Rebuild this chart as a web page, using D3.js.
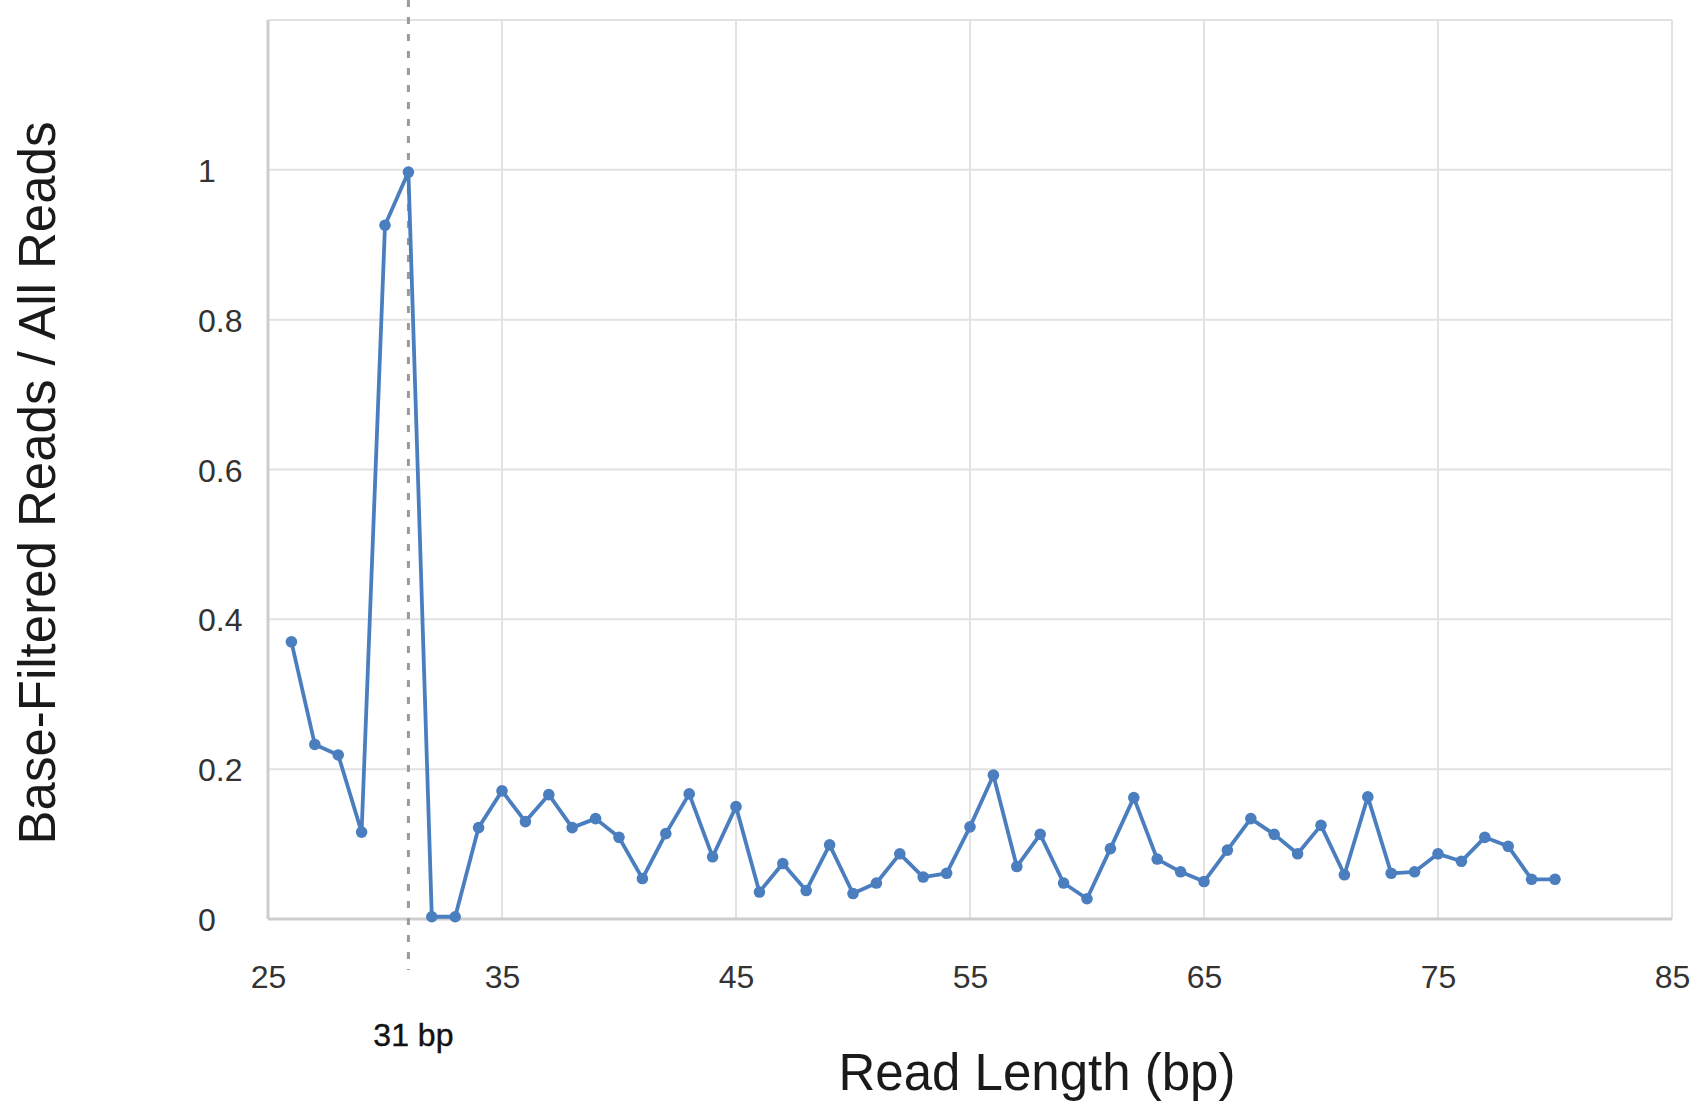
<!DOCTYPE html>
<html>
<head>
<meta charset="utf-8">
<script src="https://cdn.jsdelivr.net/npm/d3@7/dist/d3.min.js"></script>
<style>
  body { margin: 0; background: #fff; }
  svg { display: block; font-family: "Liberation Sans", Arial, Helvetica, sans-serif; }
</style>
</head>
<body>
<div id="chart"></div>
<script>
// read lengths (bp) and ratio of base-filtered reads to all reads
var readLengths = [26, 27, 28, 29, 30, 31, 32, 33, 34, 35, 36, 37, 38, 39, 40,
                   41, 42, 43, 44, 45, 46, 47, 48, 49, 50, 51, 52, 53, 54, 55,
                   56, 57, 58, 59, 60, 61, 62, 63, 64, 65, 66, 67, 68, 69, 70,
                   71, 72, 73, 74, 75, 76, 77, 78, 79, 80];
var ratios = [0.370, 0.233, 0.219, 0.116, 0.926, 0.997, 0.003, 0.003, 0.122, 0.171,
              0.130, 0.166, 0.122, 0.134, 0.109, 0.054, 0.114, 0.167, 0.083, 0.150,
              0.036, 0.074, 0.038, 0.099, 0.034, 0.048, 0.087, 0.056, 0.061, 0.123,
              0.192, 0.070, 0.113, 0.048, 0.027, 0.094, 0.162, 0.080, 0.063, 0.050,
              0.092, 0.134, 0.113, 0.087, 0.125, 0.059, 0.163, 0.061, 0.063, 0.087,
              0.077, 0.109, 0.097, 0.053, 0.053];
var xTicks = [25, 35, 45, 55, 65, 75, 85];
var yTicks = [0, 0.2, 0.4, 0.6, 0.8, 1];
var xDomain = [25, 85];
var yDomain = [0, 1.2];
var cutoff = 31;
var cutoffLabel = "31 bp";

var width = 1700, height = 1105;
var margin = {top: 20, right: 28, bottom: 186, left: 268};
var w = width - margin.left - margin.right;
var h = height - margin.top - margin.bottom;

var svg = d3.select("#chart").append("svg")
    .attr("width", width)
    .attr("height", height);

var x = d3.scaleLinear().domain(xDomain).range([0, w]);
var y = d3.scaleLinear().domain(yDomain).range([h, 0]);

var g = svg.append("g")
    .attr("transform", "translate(" + margin.left + "," + margin.top + ")");

// grid lines
g.append("g").selectAll("line.hgrid")
    .data(y.ticks(6).filter(function(d) { return d > 0; }))
    .enter().append("line")
    .attr("x1", 0).attr("x2", w)
    .attr("y1", function(d) { return y(d); })
    .attr("y2", function(d) { return y(d); })
    .attr("stroke", "#e2e2e2")
    .attr("stroke-width", 2);

g.append("g").selectAll("line.vgrid")
    .data(xTicks.slice(1))
    .enter().append("line")
    .attr("x1", function(d) { return x(d); })
    .attr("x2", function(d) { return x(d); })
    .attr("y1", 0).attr("y2", h)
    .attr("stroke", "#e2e2e2")
    .attr("stroke-width", 2);

// left and bottom frame
g.append("line")
    .attr("x1", 0).attr("x2", 0).attr("y1", 0).attr("y2", h)
    .attr("stroke", "#cdcdcd").attr("stroke-width", 3);
g.append("line")
    .attr("x1", 0).attr("x2", w).attr("y1", h).attr("y2", h)
    .attr("stroke", "#cdcdcd").attr("stroke-width", 3);

// axes (labels only)
var xAxis = d3.axisBottom(x)
    .tickValues(xTicks)
    .tickSize(0)
    .tickPadding(0)
    .tickFormat(d3.format("d"));

g.append("g")
    .attr("transform", "translate(0," + h + ")")
    .call(xAxis)
    .call(function(a) { a.select(".domain").remove(); })
    .selectAll("text")
    .attr("y", 69)
    .attr("dy", null)
    .attr("font-size", 32)
    .attr("font-family", null)
    .attr("fill", "#333");

var yAxis = d3.axisLeft(y)
    .tickValues(yTicks)
    .tickSize(0)
    .tickFormat(d3.format("~g"));

g.append("g")
    .call(yAxis)
    .call(function(a) { a.select(".domain").remove(); })
    .selectAll("text")
    .attr("x", -70)
    .attr("dy", "0.36em")
    .attr("text-anchor", "start")
    .attr("font-size", 32)
    .attr("font-family", null)
    .attr("fill", "#333");

// cutoff marker
g.append("line")
    .attr("x1", x(cutoff)).attr("x2", x(cutoff))
    .attr("y1", -margin.top).attr("y2", h + 51)
    .attr("stroke", "#9a9a9a")
    .attr("stroke-width", 3)
    .attr("stroke-dasharray", "7,10");

g.append("text")
    .attr("x", x(cutoff) + 5)
    .attr("y", h + 127)
    .attr("text-anchor", "middle")
    .attr("font-size", 32)
    .attr("fill", "#111")
    .attr("stroke", "#111")
    .attr("stroke-width", 0.4)
    .text(cutoffLabel);

// series
var points = readLengths.map(function(d, i) { return {len: d, val: ratios[i]}; });

var line = d3.line()
    .x(function(d) { return x(d.len); })
    .y(function(d) { return y(d.val); });

g.append("path")
    .datum(points)
    .attr("fill", "none")
    .attr("stroke", "#4a7ebf")
    .attr("stroke-width", 3.8)
    .attr("stroke-linejoin", "round")
    .attr("d", line);

g.append("g").selectAll("circle")
    .data(points)
    .enter().append("circle")
    .attr("cx", function(d) { return x(d.len); })
    .attr("cy", function(d) { return y(d.val); })
    .attr("r", 5.8)
    .attr("fill", "#4a7ebf");

// titles
svg.append("text")
    .attr("x", 1037)
    .attr("y", 1090)
    .attr("text-anchor", "middle")
    .attr("font-size", 51)
    .attr("fill", "#1a1a1a")
    .text("Read Length (bp)");

svg.append("text")
    .attr("transform", "translate(55,483) rotate(-90)")
    .attr("text-anchor", "middle")
    .attr("font-size", 51)
    .attr("fill", "#1a1a1a")
    .text("Base-Filtered Reads / All Reads");
</script>
</body>
</html>
